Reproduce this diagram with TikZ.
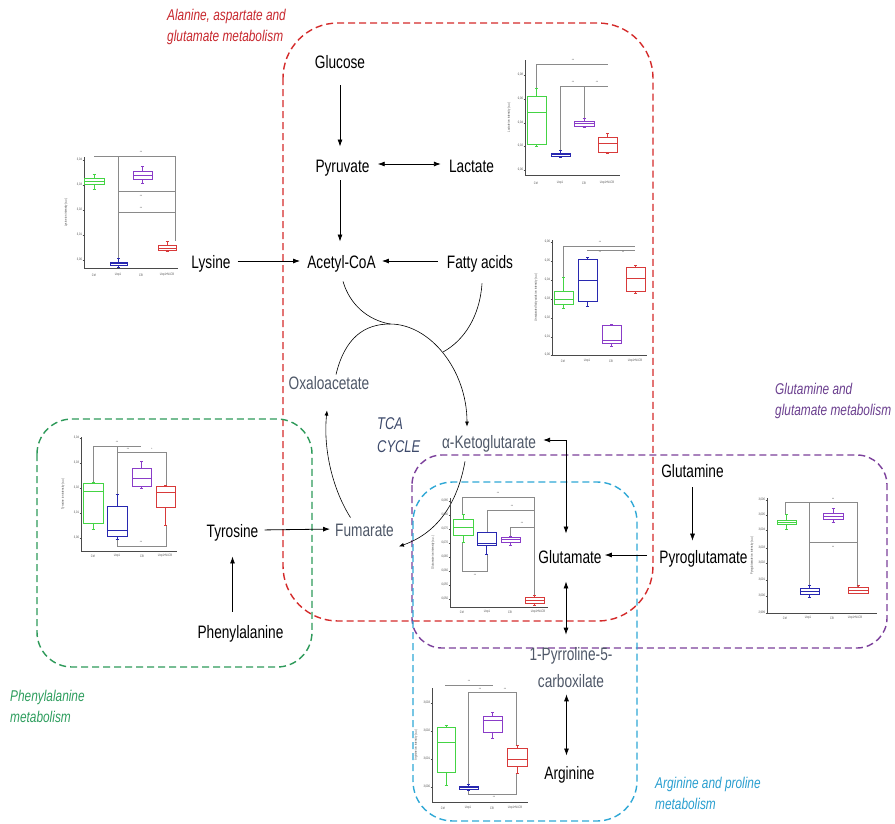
\documentclass[tikz,border=0pt]{standalone}
\usepackage{fontspec}
\setmainfont[FakeStretch=0.76]{Liberation Sans}
\usetikzlibrary{arrows.meta,calc}
\definecolor{redbox}{HTML}{D42A2A}
\definecolor{greenbox}{HTML}{2E9A5A}
\definecolor{purplebox}{HTML}{7B3F9B}
\definecolor{cyanbox}{HTML}{2FA8D6}
\definecolor{redlab}{HTML}{C8282E}
\definecolor{greenlab}{HTML}{2E9E5E}
\definecolor{purplelab}{HTML}{6B3F8F}
\definecolor{cyanlab}{HTML}{2A9FD0}
\definecolor{tcagray}{HTML}{4F5868}
\definecolor{tcablue}{HTML}{3D4A6B}
\definecolor{bgreen}{HTML}{44D444}
\definecolor{bblue}{HTML}{2828B0}
\definecolor{bpurple}{HTML}{8A3CC8}
\definecolor{bred}{HTML}{D83A3A}
\definecolor{siggray}{HTML}{8A8A8A}
\definecolor{axgray}{HTML}{4A4A4A}
% box of a box plot: colour, x left, x right, whisker top, q3, median, q1, whisker bottom
\newcommand\bpbox[8]{%
  \draw[#1, line width=0.9pt] (#2,#5) rectangle (#3,#7) (#2,#6) -- (#3,#6);
  \draw[#1, line width=0.5pt] ({(#2+#3)/2},#4) -- ({(#2+#3)/2},#5) ({(#2+#3)/2},#7) -- ({(#2+#3)/2},#8);
  \draw[#1, line width=0.9pt] ({(#2+#3)/2-1.5},#4) -- ({(#2+#3)/2+1.5},#4) ({(#2+#3)/2-1.5},#8) -- ({(#2+#3)/2+1.5},#8);
}
% axes: x0, y top, y bottom, x right, title, title x
\newcommand\bpaxes[6]{%
  \draw[axisl] (#1,#2) -- (#1,#3) -- (#4,#3);
  \node[tiny, rotate=90] at (#6,{(#2+#3)/2}) {#5};
}
% x labels: y, four x positions
\newcommand\bpxlab[5]{%
  \node[tiny] at (#2,#1) {Ctrl};
  \node[tiny] at (#3,#1) {Ucp1};
  \node[tiny] at (#4,#1) {CB};
  \node[tiny] at (#5,#1) {Ucp1+M-CB};
}
\begin{document}
\begin{tikzpicture}[x=1pt,y=-1pt,
  met/.style={font=\fontsize{18}{20}\selectfont, inner sep=0pt, text height=12.5pt, text depth=4pt},
  tcam/.style={met, text=tcagray},
  grplab/.style={font=\fontsize{15.6}{21}\selectfont\itshape, align=left, anchor=north west, inner sep=0pt},
  regionbox/.style={line width=1.4pt, dash pattern=on 7pt off 4pt},
  arr/.style={-{Latex[length=7pt,width=5pt]}, line width=0.8pt},
  darr/.style={{Latex[length=7pt,width=5pt]}-{Latex[length=7pt,width=5pt]}, line width=0.8pt},
  tarr/.style={-{Latex[length=5pt,width=4pt]}, line width=0.6pt},
  tline/.style={line width=0.6pt},
  sig/.style={siggray, line width=0.5pt},
  axisl/.style={axgray, line width=0.6pt},
  tiny/.style={font=\fontsize{3.4}{3.8}\selectfont, text=axgray, inner sep=0.3pt},
]
\useasboundingbox (0,0) rectangle (895,823);
\fill[white] (0,0) rectangle (895,823);

% ---------- regions ----------
\draw[regionbox, redbox, rounded corners=55pt] (283,23) rectangle (653,621);
\draw[regionbox, greenbox, rounded corners=35pt] (37,419) rectangle (312,667);
\draw[regionbox, purplebox, rounded corners=30pt] (412,455) rectangle (887,648);
\draw[regionbox, cyanbox, rounded corners=40pt] (413,482) rectangle (637,821);

\node[grplab, text=redlab] (labala) at (167,9) {Alanine, aspartate and\\glutamate metabolism};
\node[grplab, text=greenlab] (labphe) at (10,690) {Phenylalanine\\metabolism};
\node[grplab, text=purplelab] (labgln) at (775,383) {Glutamine and\\glutamate metabolism};
\node[grplab, text=cyanlab] (labarg) at (655,777) {Arginine and proline\\metabolism};

% ---------- metabolites ----------
\node[met] (glu) at (340,64) {Glucose};
\node[met] (pyr) at (342.5,168) {Pyruvate};
\node[met] (lac) at (471.5,168) {Lactate};
\node[met] (acoa) at (341.5,264) {Acetyl-CoA};
\node[met] (lys) at (211,264) {Lysine};
\node[met] (fat) at (480,264) {Fatty acids};
\node[tcam] (oxa) at (329,385) {Oxaloacetate};
\node[tcam] (akg) at (489,444) {α-Ketoglutarate};
\node[tcam] (fum) at (364.5,532) {Fumarate};
\node[font=\fontsize{17}{23}\selectfont\itshape, text=tcablue, align=left, anchor=west, inner sep=0pt] (tca) at (377,435) {TCA\\CYCLE};
\node[met] (tyr) at (232.5,533) {Tyrosine};
\node[met] (phe) at (240.5,634) {Phenylalanine};
\node[met] (glt) at (570,559) {Glutamate};
\node[met] (gln) at (692.5,473) {Glutamine};
\node[met] (pyg) at (703.5,559) {Pyroglutamate};
\node[font=\fontsize{18}{27}\selectfont, align=center, inner sep=0pt, text=tcagray] (p5c) at (571,668) {1-Pyrroline-5-\\carboxilate};
\node[met] (arg) at (569.5,775) {Arginine};

% ---------- connectors ----------
\draw[arr, shorten <=13pt, shorten >=13pt] (glu.south) -- (glu.south |- pyr.north);
\draw[arr, shorten <=4pt, shorten >=14pt] (glu.south |- pyr.south) -- (glu.south |- acoa.north);
\draw[darr, shorten <=8pt, shorten >=8pt] ([yshift=4pt]pyr.east) -- ([yshift=4pt]lac.west);
\draw[arr, shorten <=7pt, shorten >=7pt] ([yshift=3pt]lys.east) -- ([yshift=3pt]acoa.west);
\draw[arr, shorten <=9pt, shorten >=6pt] ([yshift=3pt]fat.west) -- ([yshift=3pt]acoa.east);
\draw[darr, shorten <=7pt, shorten >=17pt] ([yshift=4pt]akg.east) -| ([xshift=-4pt]glt.north);
\draw[darr, shorten <=14pt, shorten >=13pt] ([xshift=-4pt]glt.south) -- ([xshift=-4pt]glt.south |- p5c.north);
\draw[darr, shorten <=6pt, shorten >=11pt] ([xshift=-3pt]arg.north |- p5c.south) -- ([xshift=-3pt]arg.north);
\draw[arr, shorten <=12pt, shorten >=3pt] ([yshift=4pt]pyg.west) -- ([yshift=4pt]glt.east);
\draw[arr, line width=0.5pt, shorten <=6pt, shorten >=10pt] (gln.south) -- (gln.south |- pyg.north);
\draw[arr, shorten <=6pt, shorten >=5pt] ([yshift=3pt]tyr.east) -- ([yshift=3pt]fum.west);
\draw[arr, shorten <=14pt, shorten >=15pt] ([xshift=-8pt]phe.north) -- ([xshift=-8pt]phe.north |- tyr.south);

% TCA cycle
\coordinate (apex) at (390,324);
\draw[tline] ([xshift=1.5pt,yshift=-9pt]acoa.south) .. controls (350,305) and (368,320) .. (apex);
\draw[tline] ([xshift=2pt,yshift=-11pt]fat.south) .. controls (480,315) and (465,340) .. (443,352);
\draw[tarr] ([xshift=7pt,yshift=2pt]oxa.north) .. controls (345,337) and (365,324) .. (apex)
   .. controls (430,324) and (467,370) .. ([xshift=-22pt,yshift=9pt]akg.north);
\draw[tarr] ([xshift=-24pt,yshift=-9pt]akg.south) .. controls (458,500) and (440,532) .. ([xshift=5pt,yshift=-6pt]fum.south east);
\draw[tarr] ([xshift=-14pt,yshift=6pt]fum.north) .. controls (333,490) and (323,450) .. ([xshift=-2pt,yshift=-17pt]oxa.south);

% ---------- plot 1: lysine ----------
\bpaxes{84}{157}{268}{178}{Lysine ion intensity (a.u.)}{66}
\foreach \yy/\lab in {160/3{,}04,185/3{,}03,210/3{,}02,235/3{,}01,260/3{,}00}{\draw[axisl] (82.5,\yy) -- (84,\yy); \node[tiny, anchor=east] at (82.5,\yy) {\lab};}
\bpxlab{275}{94}{118}{141}{167}
\draw[sig] (94,156) -- (175,156) (118,156) -- (118,258) (175,156) -- (175,241) (118,191) -- (175,191) (118,212) -- (175,212);
\node[tiny] at (141,152) {**}; \node[tiny] at (141,196) {**}; \node[tiny] at (141,208) {**};
\bpbox{bgreen}{84}{104}{174}{178}{181}{184}{189}
\bpbox{bblue}{110}{127}{258}{262}{263.5}{265}{267}
\bpbox{bpurple}{133}{152}{166}{171}{175}{179}{183}
\bpbox{bred}{158}{176}{241}{245}{248}{250}{251}

% ---------- plot 2: lactate ----------
\bpaxes{525}{60}{175}{620}{Lactate ion intensity (a.u.)}{509}
\foreach \yy/\lab in {75/0{,}08,99/0{,}06,123/0{,}04,146/0{,}02,170/0{,}00}{\draw[axisl] (523.5,\yy) -- (525,\yy); \node[tiny, anchor=east] at (523.5,\yy) {\lab};}
\bpxlab{183}{536}{560}{584}{607}
\draw[sig] (536,64) -- (608,64) (536,64) -- (536,88) (560,86) -- (608,86) (560,86) -- (560,150) (584,86) -- (584,118);
\node[tiny] at (573,60) {**}; \node[tiny] at (573,82) {**}; \node[tiny] at (597,82) {**};
\bpbox{bgreen}{527}{546}{88}{96}{112}{144}{146}
\bpbox{bblue}{551}{570}{150}{153}{154.5}{156}{157}
\bpbox{bpurple}{574}{594}{118}{121}{123}{126}{127}
\bpbox{bred}{598}{617}{133}{137}{143}{152}{153}

% ---------- plot 3: fatty acids ----------
\bpaxes{552}{240}{355}{647}{Unsaturated fatty acids ion intensity (a.u.)}{536}
\foreach \yy/\lab in {242/0{,}06,261/0{,}05,280/0{,}04,299/0{,}03,318/0{,}02,337/0{,}01,355/0{,}00}{\draw[axisl] (550.5,\yy) -- (552,\yy); \node[tiny, anchor=east] at (550.5,\yy) {\lab};}
\bpxlab{361}{563}{587}{611}{635}
\draw[sig] (563,246) -- (635,246) (587,250) -- (635,250) (563,246) -- (563,277);
\node[tiny] at (600,242.5) {**}; \node[tiny] at (600,252.5) {**}; \node[tiny] at (623,252.5) {**};
\bpbox{bgreen}{554}{573}{277}{291}{299}{304}{308}
\bpbox{bblue}{578}{597}{257}{259}{280}{301}{306}
\bpbox{bpurple}{602}{621}{324}{325}{340}{343}{346}
\bpbox{bred}{626}{645}{265}{267}{278}{291}{293}

% ---------- plot 4: tyrosine ----------
\bpaxes{81}{437}{551}{177}{Tyrosine ion intensity (a.u.)}{63}
\foreach \yy/\lab in {438/3{,}04,463/3{,}03,488/3{,}02,513/3{,}01,538/3{,}00}{\draw[axisl] (79.5,\yy) -- (81,\yy); \node[tiny, anchor=east] at (79.5,\yy) {\lab};}
\bpxlab{556}{93}{117}{142}{165}
\draw[sig] (93,446) -- (141,446) (93,446) -- (93,482) (117,446) -- (117,494) (117,452) -- (166,452) (166,452) -- (166,485) (117,539) -- (117,546) -- (166,546) -- (166,525);
\node[tiny] at (117,442) {**}; \node[tiny] at (128,449) {**}; \node[tiny] at (152,449) {*}; \node[tiny] at (141,542) {**};
\bpbox{bgreen}{83}{103}{482}{483}{491}{523}{529}
\bpbox{bblue}{107}{127}{494}{506}{530}{536}{539}
\bpbox{bpurple}{132}{151}{461}{468}{478}{486}{488}
\bpbox{bred}{156}{175}{485}{486}{492}{507}{525}

% ---------- plot 5: glutamate ----------
\bpaxes{450}{498}{607}{548}{Glutamate ion intensity (a.u.)}{433}
\foreach \yy/\lab in {501/0{,}085,515/0{,}080,529/0{,}075,543/0{,}070,557/0{,}065,571/0{,}060,585/0{,}055,599/0{,}050}{\draw[axisl] (448.5,\yy) -- (450,\yy); \node[tiny, anchor=east] at (448.5,\yy) {\lab};}
\bpxlab{612}{462}{487}{510}{538}
\draw[sig] (462,497) -- (534,497) (462,497) -- (462,514) (487,510) -- (534,510) (487,510) -- (487,532) (510,527) -- (534,527) (510,527) -- (510,536) (534,497) -- (534,597) (462,542) -- (462,571) -- (487,571) -- (487,554);
\node[tiny] at (498,493) {**}; \node[tiny] at (512,506) {**}; \node[tiny] at (522,523) {**}; \node[tiny] at (475,575) {**};
\bpbox{bgreen}{453}{473}{514}{519}{527}{535}{542}
\bpbox{bblue}{477}{496}{532}{532}{543}{545}{554}
\bpbox{bpurple}{501}{520}{536}{537}{539}{542}{545}
\bpbox{bred}{525}{544}{595}{597}{600}{603}{605}

% ---------- plot 6: pyroglutamate ----------
\bpaxes{767}{498}{613}{877}{Pyroglutamate ion intensity (a.u.)}{752}
\foreach \yy/\lab in {500/3{,}006,515/3{,}005,530/3{,}004,548/3{,}003,563/3{,}002,580/3{,}001,596/3{,}000,613/2{,}999}{\draw[axisl] (765.5,\yy) -- (767,\yy); \node[tiny, anchor=east] at (765.5,\yy) {\lab};}
\bpxlab{618}{785}{808}{832}{855}
\draw[sig] (785,502) -- (857,502) (785,502) -- (785,514) (809,502) -- (809,585) (857,502) -- (857,587) (809,542) -- (857,542);
\node[tiny] at (833,499) {**}; \node[tiny] at (833,547) {**};
\bpbox{bgreen}{777}{796}{514}{520}{522}{524}{529}
\bpbox{bblue}{800}{819}{585}{588}{591}{594}{597}
\bpbox{bpurple}{823}{843}{508}{513}{516}{519}{522}
\bpbox{bred}{848}{868}{585}{587}{590}{593}{593}

% ---------- plot 7: arginine ----------
\bpaxes{432}{688}{802}{528}{Arginine ion intensity (a.u.)}{416}
\foreach \yy/\lab in {703/3{,}003,731/3{,}002,759/3{,}001,787/3{,}000}{\draw[axisl] (430.5,\yy) -- (432,\yy); \node[tiny, anchor=east] at (430.5,\yy) {\lab};}
\bpxlab{808}{443}{468}{492}{515}
\draw[sig] (445,685) -- (493,685) (468,692) -- (516,692) (468,692) -- (468,784) (516,692) -- (516,745) (468,790) -- (468,794) -- (516,794) -- (516,773);
\node[tiny] at (469,681) {**}; \node[tiny] at (480,689) {**}; \node[tiny] at (505,689) {**}; \node[tiny] at (494,797) {**};
\bpbox{bgreen}{437}{455}{725}{727}{742}{772}{785}
\bpbox{bblue}{459}{478}{784}{786}{787}{789}{790}
\bpbox{bpurple}{483}{502}{712}{716}{720}{732}{738}
\bpbox{bred}{507}{527}{745}{748}{759}{766}{773}
\end{tikzpicture}
\end{document}
